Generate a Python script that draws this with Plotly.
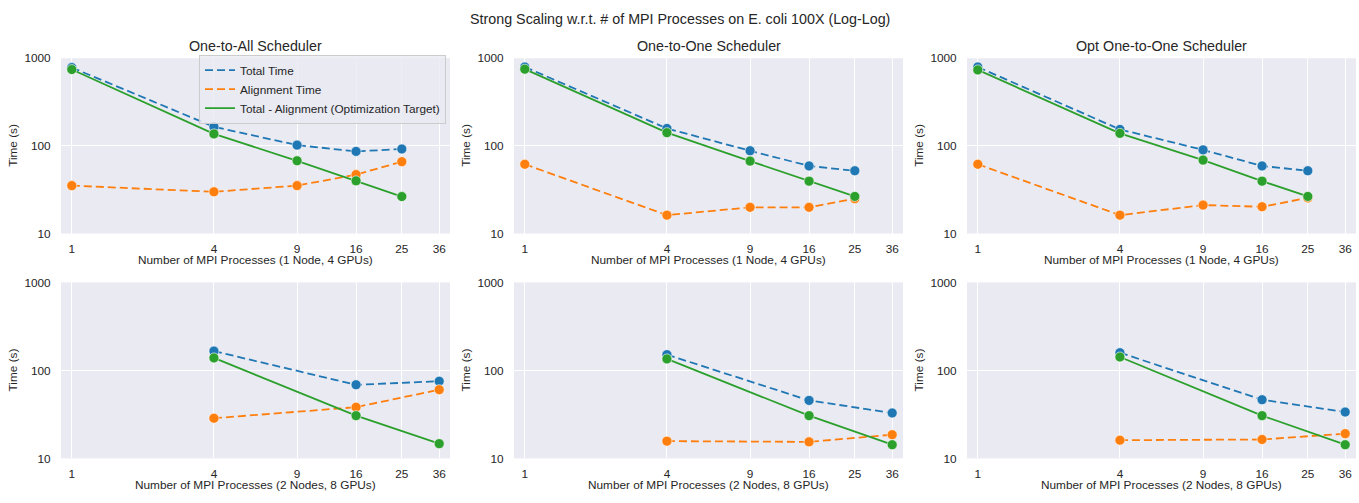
import plotly.graph_objects as go
import math

# ---------------- data ----------------
titles = ["One-to-All Scheduler", "One-to-One Scheduler", "Opt One-to-One Scheduler"]
row_xlabels = ["Number of MPI Processes (1 Node, 4 GPUs)", "Number of MPI Processes (2 Nodes, 8 GPUs)"]
x_ticks = [1, 4, 9, 16, 25, 36]
y_ticks = [10, 100, 1000]

procs_1node = [1, 4, 9, 16, 25]
procs_2node = [4, 16, 36]

# row 1 (1 node, 4 GPUs)
total_o2a_1 = [782, 165, 102, 86.5, 92]
align_o2a_1 = [35.2, 29.9, 35.2, 47, 66]
diff_o2a_1 = [743, 137, 67.6, 39.9, 26.4]

total_o2o_1 = [794, 158, 88, 59, 52]
align_o2o_1 = [61.7, 16.2, 19.9, 19.9, 25]
diff_o2o_1 = [750, 141.6, 67, 39.6, 26.5]

total_opt_1 = [794, 154, 90, 59, 52]
align_opt_1 = [61.7, 16.2, 21.1, 20.2, 25.5]
diff_opt_1 = [736, 139, 68.8, 39.6, 26.5]

# row 2 (2 nodes, 8 GPUs)
total_o2a_2 = [165.6, 68.6, 75.3]
align_o2a_2 = [28.6, 38.2, 60.4]
diff_o2a_2 = [138.6, 30.6, 14.7]

total_o2o_2 = [151, 45.6, 32.8]
align_o2o_2 = [15.7, 15.4, 18.6]
diff_o2o_2 = [135, 30.6, 14.3]

total_opt_2 = [158.9, 46.4, 33.6]
align_opt_2 = [16.1, 16.4, 19.1]
diff_opt_2 = [142, 30.6, 14.3]

series_names = ["Total Time", "Alignment Time", "Total - Alignment (Optimization Target)"]

panels = [
    (procs_1node, total_o2a_1, align_o2a_1, diff_o2a_1),
    (procs_1node, total_o2o_1, align_o2o_1, diff_o2o_1),
    (procs_1node, total_opt_1, align_opt_1, diff_opt_1),
    (procs_2node, total_o2a_2, align_o2a_2, diff_o2a_2),
    (procs_2node, total_o2o_2, align_o2o_2, diff_o2o_2),
    (procs_2node, total_opt_2, align_opt_2, diff_opt_2),
]

# ---------------- style ----------------
W, H = 1359, 503
BLUE, ORANGE, GREEN = "#1f77b4", "#ff7f0e", "#2ca02c"
colors = [BLUE, ORANGE, GREEN]
dashes = ["8px,4px", "8px,4px", "solid"]
TXT = "#262626"
FONT = "Arial, Liberation Sans, sans-serif"
BG = "#EAEAF2"
SMALL = 11.8
BIG = 14.3

col_px = [(61, 450), (514, 903), (967, 1356)]
row_px = [(52.7, 233.0), (283.3, 464.3)]

fig = go.Figure()

layout = dict(
    width=W, height=H,
    margin=dict(l=0, r=0, t=0, b=0),
    paper_bgcolor="white",
    plot_bgcolor=BG,
    font=dict(family=FONT, color=TXT, size=SMALL),
    showlegend=True,
)

annotations = []
for i, (xs, tot, ali, dif) in enumerate(panels):
    r, c = divmod(i, 3)
    idx = i + 1
    xa = "x" if idx == 1 else f"x{idx}"
    ya = "y" if idx == 1 else f"y{idx}"
    for k, ys in enumerate([tot, ali, dif]):
        fig.add_trace(go.Scatter(
            x=xs, y=ys, mode="lines+markers",
            line=dict(color=colors[k], width=1.8, dash=dashes[k]),
            marker=dict(color=colors[k], size=10, line=dict(width=0.6, color="white")),
            xaxis=xa, yaxis=ya, showlegend=False, name=series_names[k],
        ))
    x0, x1 = col_px[c]
    y0, y1 = row_px[r]
    xd = [x0 / W, x1 / W]
    yd = [1 - y1 / H, 1 - y0 / H]
    axkey_x = "xaxis" if idx == 1 else f"xaxis{idx}"
    axkey_y = "yaxis" if idx == 1 else f"yaxis{idx}"
    layout[axkey_x] = dict(
        domain=xd, anchor=ya, type="log",
        range=[math.log10(0.9), math.log10(40)],
        tickvals=x_ticks, ticktext=[str(v) for v in x_ticks],
        showgrid=True, gridcolor="white", gridwidth=1,
        zeroline=False, showline=False,
        ticks="outside", ticklen=4, tickcolor="rgba(0,0,0,0)",
        tickfont=dict(size=SMALL, color=TXT, family=FONT),
    )
    layout[axkey_y] = dict(
        domain=yd, anchor=xa, type="log",
        range=[1, 3],
        tickvals=y_ticks, ticktext=[str(v) for v in y_ticks],
        showgrid=True, gridcolor="white", gridwidth=1,
        zeroline=False, showline=False,
        ticks="outside", ticklen=7, tickcolor="rgba(0,0,0,0)",
        tickfont=dict(size=SMALL, color=TXT, family=FONT),
    )
    # y-axis title
    annotations.append(dict(
        text="Time (s)", x=(x0 - 48) / W, y=1 - (y0 + y1) / 2 / H,
        xref="paper", yref="paper", showarrow=False, textangle=-90,
        font=dict(size=SMALL, color=TXT, family=FONT), xanchor="center", yanchor="middle",
    ))
    # x-axis title
    annotations.append(dict(
        text=row_xlabels[r], x=(x0 + x1) / 2 / W, y=1 - (y1 + 27.5) / H,
        xref="paper", yref="paper", showarrow=False,
        font=dict(size=SMALL, color=TXT, family=FONT), xanchor="center", yanchor="middle",
    ))
    if r == 0:
        annotations.append(dict(
            text=titles[c], x=(x0 + x1) / 2 / W, y=1 - 40 / H,
            xref="paper", yref="paper", showarrow=False,
            font=dict(size=BIG, color=TXT, family=FONT), xanchor="center", yanchor="middle",
        ))

annotations.append(dict(
    text="Strong Scaling w.r.t. # of MPI Processes on E. coli 100X (Log-Log)",
    x=0.5, y=1 - 12 / H, xref="paper", yref="paper", showarrow=False,
    font=dict(size=BIG, color=TXT, family=FONT), xanchor="center", yanchor="middle",
))

# legend-only entries (line samples without markers)
for k in range(3):
    fig.add_trace(go.Scatter(
        x=[None], y=[None], mode="lines", name=series_names[k],
        line=dict(color=colors[k], width=1.8, dash=dashes[k]),
        xaxis="x", yaxis="y", showlegend=True,
    ))

layout["annotations"] = annotations
layout["legend"] = dict(
    x=199 / W, y=1 - 49 / H, xanchor="left", yanchor="top",
    bgcolor="rgba(234,234,242,0.8)", bordercolor="#cccccc", borderwidth=1,
    font=dict(size=SMALL, color=TXT, family=FONT),
    tracegroupgap=0, itemwidth=30,
)
fig.update_layout(**layout)

fig.write_html(
    "out.html",
    config={"displayModeBar": False},
    post_script="document.body.style.margin='0';document.body.style.overflow='hidden';",
)
